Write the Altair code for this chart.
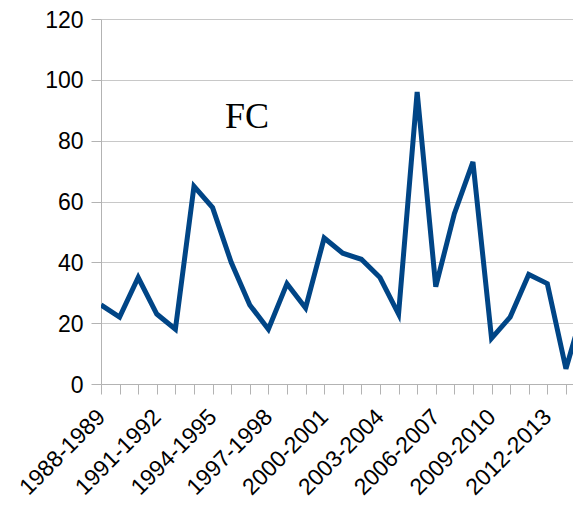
import altair as alt
import pandas as pd

seasons = [
    "1988-1989", "1989-1990", "1990-1991", "1991-1992", "1992-1993", "1993-1994",
    "1994-1995", "1995-1996", "1996-1997", "1997-1998", "1998-1999", "1999-2000",
    "2000-2001", "2001-2002", "2002-2003", "2003-2004", "2004-2005", "2005-2006",
    "2006-2007", "2007-2008", "2008-2009", "2009-2010", "2010-2011", "2011-2012",
    "2012-2013", "2013-2014", "2014-2015",
]
values = [26, 22, 35, 23, 18, 65, 58, 40, 26, 18, 33, 25, 48, 43, 41, 35, 23, 96,
          32, 56, 73, 15, 22, 36, 33, 5, 26]
y_ticks = [0, 20, 40, 60, 80, 100, 120]

df = pd.DataFrame({"idx": list(range(len(seasons))), "season": seasons, "value": values})

labels_js = "[" + ",".join("'" + s + "'" for s in seasons) + "]"
label_expr = f"datum.value % 3 == 0 ? {labels_js}[datum.value] : ''"

line = alt.Chart(df).mark_line(color="#004586", strokeWidth=5, clip=True).encode(
    x=alt.X(
        "idx:Q",
        scale=alt.Scale(domain=[0, 25.38], nice=False, zero=False),
        axis=alt.Axis(
            values=list(range(len(seasons))),
            labelExpr=label_expr,
            labelAngle=-45,
            labelAlign="right",
            labelBaseline="middle",
            labelOverlap=False,
            labelBound=False,
            labelFlush=False,
            labelFont="Liberation Sans",
            labelFontSize=23,
            labelColor="#000000",
            labelPadding=19,
            tickSize=10,
            tickColor="#b3b3b3",
            domainColor="#b3b3b3",
            grid=False,
            title=None,
        ),
    ),
    y=alt.Y(
        "value:Q",
        scale=alt.Scale(domain=[0, 120], nice=False),
        axis=alt.Axis(
            values=y_ticks,
            labelFont="Liberation Sans",
            labelFontSize=23,
            labelColor="#000000",
            labelPadding=8,
            labelOffset=1,
            tickSize=10,
            tickColor="#b3b3b3",
            domainColor="#b3b3b3",
            gridColor="#c8c8c8",
            title=None,
        ),
    ),
)

title_txt = alt.Chart(pd.DataFrame({"t": ["FC"]})).mark_text(
    font="Liberation Serif", fontSize=36, color="#000000", align="center", baseline="middle"
).encode(x=alt.value(146), y=alt.value(98), text="t:N")

chart = alt.layer(line, title_txt).properties(
    width=472,
    height=365,
    autosize=alt.AutoSizeParams(type="none"),
    padding={"left": 93, "top": 11, "right": 0, "bottom": 115},
).configure_view(stroke=None)

chart.save("out.html", embed_options={"renderer": "svg", "actions": False})
